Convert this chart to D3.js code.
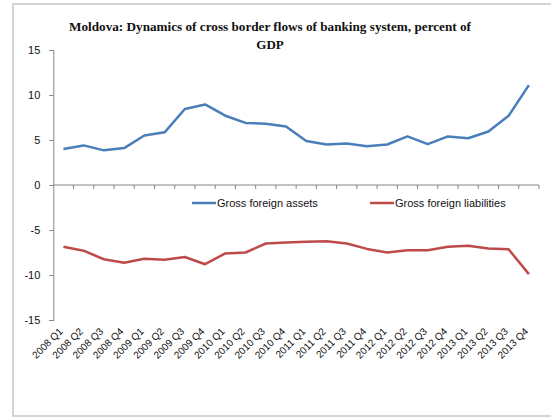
<!DOCTYPE html>
<html>
<head>
<meta charset="utf-8">
<script src="https://cdn.jsdelivr.net/npm/d3@7"></script>
<style>
  body { margin: 0; background: #fff; }
  svg { display: block; }
</style>
</head>
<body>
<svg id="chart" width="551" height="417"></svg>
<script>
// quarters on the x axis
const quarters = [
  "2008 Q1", "2008 Q2", "2008 Q3", "2008 Q4",
  "2009 Q1", "2009 Q2", "2009 Q3", "2009 Q4",
  "2010 Q1", "2010 Q2", "2010 Q3", "2010 Q4",
  "2011 Q1", "2011 Q2", "2011 Q3", "2011 Q4",
  "2012 Q1", "2012 Q2", "2012 Q3", "2012 Q4",
  "2013 Q1", "2013 Q2", "2013 Q3", "2013 Q4"
];
const assets = [4.0, 4.4, 3.85, 4.1, 5.5, 5.85, 8.45, 8.95, 7.7, 6.9, 6.8, 6.5,
  4.9, 4.5, 4.6, 4.3, 4.5, 5.4, 4.55, 5.4, 5.2, 5.95, 7.7, 11.1];
const liabilities = [-6.85, -7.3, -8.25, -8.65, -8.2, -8.3, -8.0, -8.8, -7.6, -7.5, -6.5, -6.4,
  -6.3, -6.25, -6.5, -7.1, -7.5, -7.25, -7.25, -6.85, -6.75, -7.05, -7.15, -9.9];
const yTicks = [-15, -10, -5, 0, 5, 10, 15];
const seriesNames = ["Gross foreign assets", "Gross foreign liabilities"];
const seriesColors = ["#4a7ebb", "#be4b48"];

const svg = d3.select("#chart");

// outer frame
svg.append("rect")
  .attr("x", 13).attr("y", 4)
  .attr("width", 560).attr("height", 412)
  .attr("fill", "none")
  .attr("stroke", "#d4d4d4")
  .attr("stroke-width", 2);

const x = d3.scaleBand().domain(quarters).range([53.3, 539]);
const y = d3.scaleLinear().domain([-15, 15]).range([320, 50]);
const cx = d => x(d) + x.bandwidth() / 2;

// title
const title = svg.append("text")
  .attr("text-anchor", "middle")
  .attr("font-family", "'Liberation Serif', serif")
  .attr("font-weight", "bold")
  .attr("font-size", 13)
  .attr("fill", "#111");
title.append("tspan").attr("x", 270).attr("y", 31)
  .attr("textLength", 402).attr("lengthAdjust", "spacingAndGlyphs")
  .text("Moldova: Dynamics of cross border flows of banking system, percent of");
title.append("tspan").attr("x", 270).attr("y", 49).text("GDP");

// y axis (plain hyphen for negatives, like the original)
const yAxis = svg.append("g")
  .attr("transform", "translate(53.3,0)")
  .call(d3.axisLeft(y).tickValues(yTicks).tickSize(4).tickPadding(9)
    .tickFormat(d => String(d)));
yAxis.select(".domain").attr("stroke", "#868686");
yAxis.selectAll(".tick line").attr("stroke", "#868686");
yAxis.selectAll("text")
  .attr("font-family", "'Liberation Sans', sans-serif")
  .attr("font-size", 11)
  .attr("fill", "#111");

// x axis line at zero with ticks at band boundaries
svg.append("line")
  .attr("x1", x.range()[0]).attr("x2", x.range()[1])
  .attr("y1", y(0)).attr("y2", y(0))
  .attr("stroke", "#868686");
const bounds = quarters.map(q => x(q)).concat([x.range()[1]]);
svg.append("g").selectAll("line")
  .data(bounds.slice(1))
  .join("line")
  .attr("x1", d => d).attr("x2", d => d)
  .attr("y1", y(0)).attr("y2", y(0) + 4)
  .attr("stroke", "#868686");

// category labels below the plot, rotated
svg.append("g").selectAll("text")
  .data(quarters)
  .join("text")
  .attr("transform", d => `translate(${cx(d)},${y(-15) + 12}) rotate(-45)`)
  .attr("text-anchor", "end")
  .attr("font-family", "'Liberation Sans', sans-serif")
  .attr("font-size", 10)
  .attr("fill", "#111")
  .text(d => d);

// lines
const line = d3.line().x((d, i) => cx(quarters[i])).y(d => y(d));
[assets, liabilities].forEach((s, k) => {
  svg.append("path")
    .datum(s)
    .attr("d", line)
    .attr("fill", "none")
    .attr("stroke", seriesColors[k])
    .attr("stroke-width", 2.5)
    .attr("stroke-linejoin", "round");
});

// legend
const legendX = [192, 370];
seriesNames.forEach((n, k) => {
  const g = svg.append("g").attr("transform", `translate(${legendX[k]},203)`);
  g.append("line").attr("x1", 0).attr("x2", 24)
    .attr("stroke", seriesColors[k]).attr("stroke-width", 2.5);
  g.append("text").attr("x", 25).attr("y", 4)
    .attr("font-family", "'Liberation Sans', sans-serif")
    .attr("font-size", 11)
    .attr("fill", "#111")
    .text(n);
});
</script>
</body>
</html>
